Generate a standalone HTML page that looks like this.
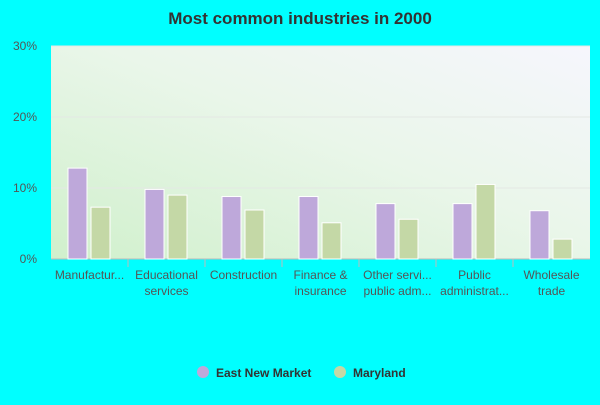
<!DOCTYPE html>
<html><head><meta charset="utf-8"><style>
body{margin:0;background:#00ffff;width:600px;height:400px;overflow:hidden;font-family:"Liberation Sans",Arial,sans-serif}
</style></head><body>
<svg width="600" height="400" xmlns="http://www.w3.org/2000/svg">
<defs>
<linearGradient id="bg" x1="0" y1="1" x2="1" y2="0">
<stop offset="0" stop-color="#d0f0cc"/><stop offset="0.55" stop-color="#eaf6ea"/><stop offset="1" stop-color="#f6f6fd"/>
</linearGradient>
</defs>
<text x="300" y="24" text-anchor="middle" font-size="17" font-weight="bold" fill="#333">Most common industries in 2000</text>
<rect x="51" y="46" width="539" height="213" fill="url(#bg)"/>
<g id="grid"></g>
<g id="bars"></g>
<g id="xlabels" font-size="12" fill="#555" text-anchor="middle"></g>
<g font-size="12" font-weight="bold" fill="#333">
<circle cx="203" cy="372" r="6" fill="#bea8da"/>
<text x="216" y="377">East New Market</text>
<circle cx="340" cy="372" r="6" fill="#c4d8a6"/>
<text x="353" y="377">Maryland</text>
</g>
</svg>
<script>
const categories=[["Manufactur..."],["Educational","services"],["Construction"],["Finance &","insurance"],["Other servi...","public adm..."],["Public","administrat..."],["Wholesale","trade"]];
const eastNewMarket=[12.8,9.8,8.8,8.8,7.8,7.8,6.8];
const maryland=[7.3,9.0,6.9,5.1,5.6,10.5,2.8];
const yTicks=[0,10,20,30];
const NS="http://www.w3.org/2000/svg";
const x0=51,x1=590,y0=259,y1=46,yMax=30;
const bw=(x1-x0)/categories.length;
function y(v){return y0-(v/yMax)*(y0-y1);}
function mk(tag,attrs,parent){const e=document.createElementNS(NS,tag);for(const k in attrs)e.setAttribute(k,attrs[k]);parent.appendChild(e);return e;}
const grid=document.getElementById('grid'),bars=document.getElementById('bars'),xl=document.getElementById('xlabels');
yTicks.forEach(t=>{
  const l=mk('line',{x1:x0,x2:x1,y1:y(t),y2:y(t),stroke:t===0?'#bbb':'#e4e8e4','stroke-width':1},grid);
  
  
  const tx=mk('text',{x:x0-14,y:y(t)+4,'text-anchor':'end','font-size':12,fill:'#555'},grid);
  tx.textContent=t+'%';
  
  
});
categories.forEach((c,i)=>{
  const cx=x0+i*bw;
  if(i>0){const s=mk('line',{x1:cx,x2:cx,y1:y0,y2:y0+8,stroke:'#bbb'},grid);
    
    }
  const b1=mk('rect',{x:cx+17,y:y(eastNewMarket[i]),width:19,height:y0-y(eastNewMarket[i]),fill:'#bea8da',stroke:'#fff','stroke-width':1},bars);
  
  
  const b2=mk('rect',{x:cx+40,y:y(maryland[i]),width:19,height:y0-y(maryland[i]),fill:'#c4d8a6',stroke:'#fff','stroke-width':1},bars);
  
  
  c.forEach((line,j)=>{
    const t=mk('text',{x:cx+bw/2,y:279+j*16},xl);
    t.textContent=line;
    
    
  });
});
</script>
</body></html>
